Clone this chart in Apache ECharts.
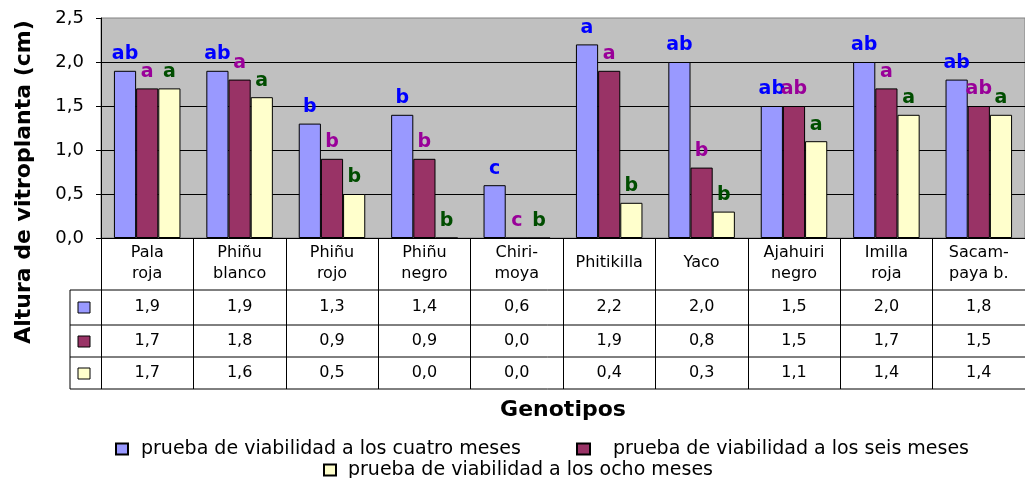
<!DOCTYPE html>
<html>
<head>
<meta charset="utf-8">
<script src="https://cdn.jsdelivr.net/npm/echarts@6/dist/echarts.min.js"></script>
<style>
  html, body { margin: 0; padding: 0; background: #fff; }
  #chart { width: 1025px; height: 478px; }
</style>
</head>
<body>
<div id="chart"></div>
<script>
// Genotypes (column headers of the data table)
const categories = ['Pala\nroja', 'Phiñu\nblanco', 'Phiñu\nrojo', 'Phiñu\nnegro', 'Chiri-\nmoya',
  'Phitikilla', 'Yaco', 'Ajahuiri\nnegro', 'Imilla\nroja', 'Sacam-\npaya b.'];

const seriesNames = [
  'prueba de viabilidad a los cuatro meses',
  'prueba de viabilidad a los seis meses',
  'prueba de viabilidad a los ocho meses'
];

// Plantlet height (cm)
const cuatroMeses = [1.9, 1.9, 1.3, 1.4, 0.6, 2.2, 2.0, 1.5, 2.0, 1.8];
const seisMeses   = [1.7, 1.8, 0.9, 0.9, 0.0, 1.9, 0.8, 1.5, 1.7, 1.5];
const ochoMeses   = [1.7, 1.6, 0.5, 0.0, 0.0, 0.4, 0.3, 1.1, 1.4, 1.4];

// Significance letters above each bar
const letrasCuatro = ['ab', 'ab', 'b', 'b', 'c', 'a', 'ab', 'ab', 'ab', 'ab'];
const letrasSeis   = ['a', 'a', 'b', 'b', 'c', 'a', 'b', 'ab', 'a', 'ab'];
const letrasOcho   = ['a', 'a', 'b', 'b', 'b', 'b', 'b', 'a', 'a', 'a'];

const FONT = "'DejaVu Sans', sans-serif";
const fmt = v => v.toFixed(1).replace('.', ',');

const barColors = ['#9999FF', '#993366', '#FFFFCC'];
const letterColors = ['#0000FF', '#990099', '#004D00'];

function barSeries(idx, values, letters) {
  return {
    name: seriesNames[idx],
    type: 'bar',
    data: values,
    barGap: '0%',
    barCategoryGap: '28%',
    itemStyle: { color: barColors[idx], borderColor: '#000', borderWidth: 1 },
    label: {
      show: true,
      position: 'top',
      distance: 7,
      formatter: p => letters[p.dataIndex],
      color: letterColors[idx],
      fontFamily: FONT,
      fontWeight: 'bold',
      fontSize: 19
    },
    emphasis: { disabled: true }
  };
}

// Extra category axes carry the value rows of the table
function tableRowAxis(values, centerY) {
  return {
    type: 'category',
    data: categories,
    position: 'bottom',
    axisLine: { show: false },
    axisTick: { show: false },
    splitLine: { show: false },
    axisLabel: {
      interval: 0,
      margin: centerY - 238,
      verticalAlign: 'middle',
      fontFamily: FONT,
      fontSize: 16,
      color: '#000',
      formatter: (v, i) => fmt(values[i])
    }
  };
}

function legendItem(name, left, top, itemWidth, pad) {
  return {
    data: [name],
    left: left,
    top: top,
    padding: 0,
    icon: 'rect',
    itemWidth: itemWidth,
    itemHeight: 11,
    selectedMode: false,
    textStyle: { fontFamily: FONT, fontSize: 19, lineHeight: 20, color: '#000', padding: [0, 0, 0, pad] }
  };
}

const tableLines = [290, 325, 357, 389].map(y => ({
  type: 'line', silent: true,
  shape: { x1: 70, y1: y, x2: 1025, y2: y },
  style: { stroke: '#000', lineWidth: 1 }
}));

const keySquares = [307, 341, 373].map((cy, i) => ({
  type: 'rect', silent: true,
  shape: { x: 78, y: cy - 5, width: 12, height: 11 },
  style: { fill: barColors[i], stroke: '#000', lineWidth: 1 }
}));

const chart = echarts.init(document.getElementById('chart'));
chart.setOption({
  animation: false,
  backgroundColor: '#fff',
  grid: {
    left: 101, right: -10, top: 18, bottom: 240,
    show: true, backgroundColor: '#C0C0C0', borderColor: '#808080', borderWidth: 1
  },
  legend: [
    legendItem(seriesNames[0], 115, 439, 12, 8),
    legendItem(seriesNames[1], 576, 439, 13, 18),
    legendItem(seriesNames[2], 323, 460, 12, 7)
  ],
  xAxis: [
    {
      type: 'category',
      data: categories,
      position: 'bottom',
      axisLine: { show: true, lineStyle: { color: '#000', width: 1 } },
      axisTick: { show: true, interval: 0, length: 151, lineStyle: { color: '#000', width: 1 } },
      axisLabel: {
        interval: 0, margin: 25, verticalAlign: 'middle',
        fontFamily: FONT, fontSize: 16, lineHeight: 21, color: '#000'
      },
      splitLine: { show: false },
      name: 'Genotipos',
      nameLocation: 'middle',
      nameGap: 172,
      nameTextStyle: { fontFamily: FONT, fontWeight: 'bold', fontSize: 22, color: '#000', verticalAlign: 'middle' }
    },
    tableRowAxis(cuatroMeses, 307),
    tableRowAxis(seisMeses, 341),
    tableRowAxis(ochoMeses, 373)
  ],
  yAxis: {
    type: 'value',
    min: 0, max: 2.5, interval: 0.5,
    axisLine: { show: true, lineStyle: { color: '#000', width: 1 } },
    axisTick: { show: true, length: 5, lineStyle: { color: '#000' } },
    axisLabel: { margin: 17, fontFamily: FONT, fontSize: 18, color: '#000', formatter: v => fmt(v) },
    splitLine: { show: true, showMaxLine: false, lineStyle: { color: '#000', width: 1 } }
  },
  graphic: [
    ...tableLines,
    {
      type: 'line', silent: true,
      shape: { x1: 70, y1: 290, x2: 70, y2: 389 },
      style: { stroke: '#000', lineWidth: 1 }
    },
    ...keySquares,
    {
      type: 'text', silent: true,
      x: 24, y: 182, rotation: Math.PI / 2,
      style: {
        text: 'Altura de vitroplanta (cm)',
        fontFamily: FONT, fontWeight: 'bold', fontSize: 22, fill: '#000',
        align: 'center', verticalAlign: 'middle'
      }
    }
  ],
  series: [
    barSeries(0, cuatroMeses, letrasCuatro),
    barSeries(1, seisMeses, letrasSeis),
    barSeries(2, ochoMeses, letrasOcho)
  ]
});
</script>
</body>
</html>
